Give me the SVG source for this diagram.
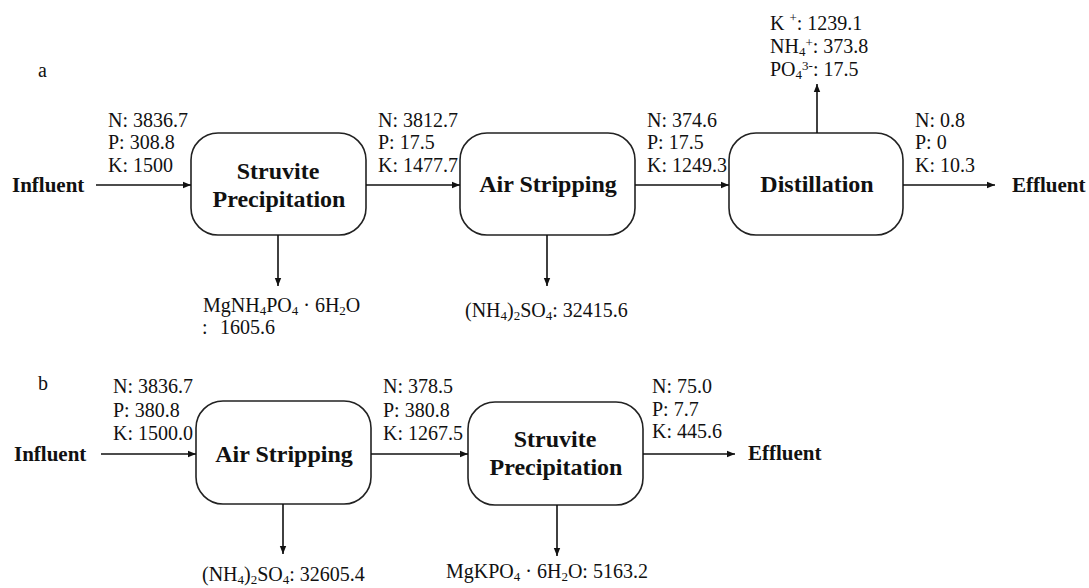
<svg xmlns="http://www.w3.org/2000/svg" width="1089" height="588" viewBox="0 0 1089 588">
<style>
text{font-family:"Liberation Serif","Times New Roman",serif;fill:#111}
.lbl{font-size:20px}
.bold{font-size:24px;font-weight:bold}
.io{font-size:21px;font-weight:bold}
.panel{font-size:20px}
.sub{font-size:13px}
.box{fill:#fff;stroke:#222;stroke-width:1.6}
.conn line{stroke:#111;stroke-width:1.6;marker-end:url(#ah)}
</style>
<defs>
<marker id="ah" viewBox="0 0 10 10" refX="10" refY="5" markerWidth="10" markerHeight="8" markerUnits="userSpaceOnUse" orient="auto">
<path d="M0,1 L10,5 L0,9 z" fill="#111"/>
</marker>
</defs>

<text class="panel" x="38" y="77">a</text>
<text class="panel" x="38" y="390">b</text>

<g id="a-influent"><text class="io" x="12" y="192">Influent</text></g>
<g id="a-struvite"><rect class="box" x="191" y="133" width="175" height="102" rx="27"/>
<text class="bold" x="278" y="179" text-anchor="middle">Struvite</text>
<text class="bold" x="279" y="207" text-anchor="middle">Precipitation</text></g>
<g id="a-air"><rect class="box" x="460" y="133" width="175" height="102" rx="27"/>
<text class="bold" x="548" y="192" text-anchor="middle">Air Stripping</text></g>
<g id="a-dist"><rect class="box" x="729" y="133" width="174" height="102" rx="27"/>
<text class="bold" x="817" y="192" text-anchor="middle">Distillation</text></g>
<g id="a-effluent"><text class="io" x="1012" y="192">Effluent</text></g>

<g id="b-influent"><text class="io" x="14" y="461">Influent</text></g>
<g id="b-air"><rect class="box" x="196" y="401" width="175" height="103" rx="27"/>
<text class="bold" x="284" y="462" text-anchor="middle">Air Stripping</text></g>
<g id="b-struvite"><rect class="box" x="468" y="402" width="175" height="103" rx="27"/>
<text class="bold" x="555" y="447" text-anchor="middle">Struvite</text>
<text class="bold" x="556" y="475" text-anchor="middle">Precipitation</text></g>
<g id="b-effluent"><text class="io" x="748" y="460">Effluent</text></g>

<g class="conn">
<line x1="96" y1="185" x2="191" y2="185"/>
<line x1="366" y1="185" x2="460" y2="185"/>
<line x1="635" y1="185" x2="729" y2="185"/>
<line x1="903" y1="185" x2="995" y2="185"/>
<line x1="817" y1="133" x2="817" y2="84"/>
<line x1="278" y1="235" x2="278" y2="286"/>
<line x1="547" y1="235" x2="547" y2="286"/>
<line x1="101" y1="454" x2="196" y2="454"/>
<line x1="371" y1="454" x2="468" y2="454"/>
<line x1="643" y1="454" x2="735" y2="454"/>
<line x1="283" y1="504" x2="283" y2="554"/>
<line x1="557" y1="505" x2="557" y2="556"/>
</g>

<g id="labels">
<text class="lbl" x="108" y="127">N: 3836.7</text>
<text class="lbl" x="108" y="149">P: 308.8</text>
<text class="lbl" x="108" y="172">K: 1500</text>
<text class="lbl" x="378" y="127">N: 3812.7</text>
<text class="lbl" x="378" y="149">P: 17.5</text>
<text class="lbl" x="378" y="172">K: 1477.7</text>
<text class="lbl" x="647" y="127">N: 374.6</text>
<text class="lbl" x="647" y="149">P: 17.5</text>
<text class="lbl" x="647" y="172">K: 1249.3</text>
<text class="lbl" x="915" y="127">N: 0.8</text>
<text class="lbl" x="915" y="149">P: 0</text>
<text class="lbl" x="915" y="172">K: 10.3</text>
<text class="lbl" x="770" y="30">K <tspan class="sub" dy="-8">+</tspan><tspan dy="8">: 1239.1</tspan></text>
<text class="lbl" x="770" y="53">NH<tspan class="sub" dy="3">4</tspan><tspan class="sub" dy="-9">+</tspan><tspan dy="6">: 373.8</tspan></text>
<text class="lbl" x="770" y="76">PO<tspan class="sub" dy="3">4</tspan><tspan class="sub" dy="-9">3-</tspan><tspan dy="6">: 17.5</tspan></text>
<text class="lbl" x="203" y="312">MgNH<tspan class="sub" dy="3">4</tspan><tspan dy="-3">PO</tspan><tspan class="sub" dy="3">4</tspan><tspan dy="-3"> · 6H</tspan><tspan class="sub" dy="3">2</tspan><tspan dy="-3">O</tspan></text>
<text class="lbl" x="202" y="334">:<tspan x="220">1605.6</tspan></text>
<text class="lbl" x="465" y="317">(NH<tspan class="sub" dy="3">4</tspan><tspan dy="-3">)</tspan><tspan class="sub" dy="3">2</tspan><tspan dy="-3">SO</tspan><tspan class="sub" dy="3">4</tspan><tspan dy="-3">: 32415.6</tspan></text>

<text class="lbl" x="113" y="393">N: 3836.7</text>
<text class="lbl" x="113" y="417">P: 380.8</text>
<text class="lbl" x="113" y="440">K: 1500.0</text>
<text class="lbl" x="383" y="393">N: 378.5</text>
<text class="lbl" x="383" y="417">P: 380.8</text>
<text class="lbl" x="383" y="440">K: 1267.5</text>
<text class="lbl" x="652" y="393">N: 75.0</text>
<text class="lbl" x="652" y="416">P: 7.7</text>
<text class="lbl" x="652" y="438">K: 445.6</text>
<text class="lbl" x="202" y="581">(NH<tspan class="sub" dy="3">4</tspan><tspan dy="-3">)</tspan><tspan class="sub" dy="3">2</tspan><tspan dy="-3">SO</tspan><tspan class="sub" dy="3">4</tspan><tspan dy="-3">: 32605.4</tspan></text>
<text class="lbl" x="446" y="578">MgKPO<tspan class="sub" dy="3">4</tspan><tspan dy="-3"> · 6H</tspan><tspan class="sub" dy="3">2</tspan><tspan dy="-3">O: 5163.2</tspan></text>
</g>
</svg>
